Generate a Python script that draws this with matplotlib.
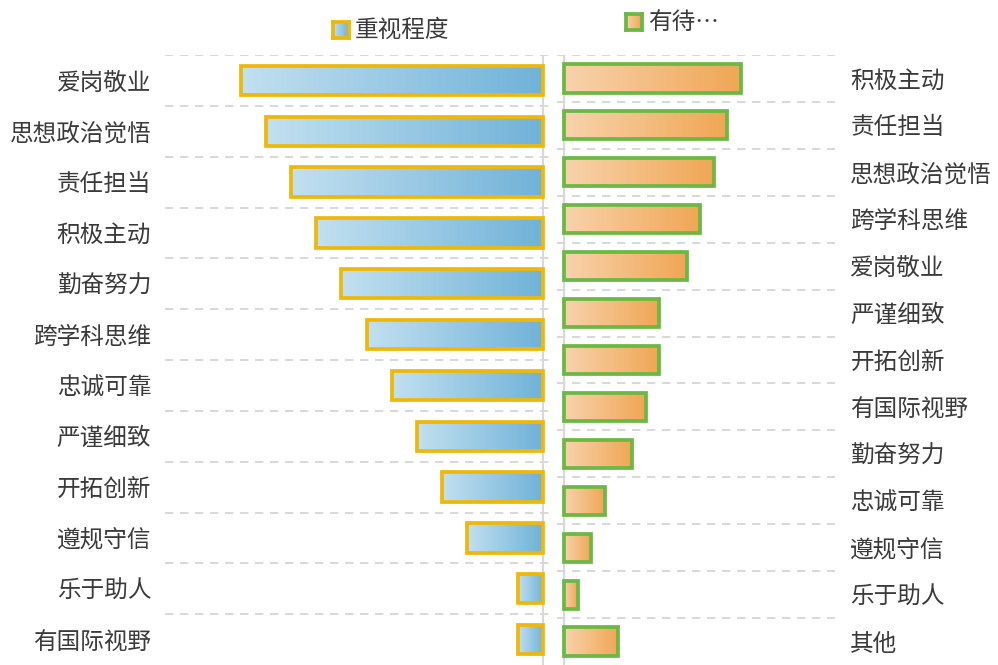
import matplotlib.pyplot as plt
import numpy as np
from matplotlib.patches import Rectangle
from matplotlib.colors import LinearSegmentedColormap

plt.rcParams['font.family'] = ['Noto Sans CJK SC', 'DejaVu Sans']

# left panel: 重视程度
left_cats = ['爱岗敬业', '思想政治觉悟', '责任担当', '积极主动', '勤奋努力', '跨学科思维',
             '忠诚可靠', '严谨细致', '开拓创新', '遵规守信', '乐于助人', '有国际视野']
left_vals = [12, 11, 10, 9, 8, 7, 6, 5, 4, 3, 1, 1]

# right panel: 有待…
right_cats = ['积极主动', '责任担当', '思想政治觉悟', '跨学科思维', '爱岗敬业', '严谨细致',
              '开拓创新', '有国际视野', '勤奋努力', '忠诚可靠', '遵规守信', '乐于助人', '其他']
right_vals = [13, 12, 11, 10, 9, 7, 7, 6, 5, 3, 2, 1, 4]

blue_cm = LinearSegmentedColormap.from_list('b', ['#c2e0f0', '#70b2d8'])
orange_cm = LinearSegmentedColormap.from_list('o', ['#f8d3ad', '#f0a654'])
gold = '#eeb80a'
green = '#6cb845'
txt = '#3a3a3a'
grid_c = '#d2d2d2'
grad = np.linspace(0, 1, 256).reshape(1, -1)

W, H = 998, 665
fig = plt.figure(figsize=(W / 100, H / 100), dpi=100)

top = 1 - 55 / H
axL = fig.add_axes([165 / W, 0, (553 - 165) / W, top])
axR = fig.add_axes([557 / W, 0, (835 - 557) / W, top])


def draw_panel(ax, cats, vals, cmap, edge, h, xlim, flip):
    n = len(cats)
    for i, v in enumerate(vals):
        ext = (v, 0) if flip else (0, v)
        ax.imshow(grad, cmap=cmap, aspect='auto', extent=(ext[0], ext[1], i + h / 2, i - h / 2),
                  zorder=2, interpolation='bilinear')
        ax.add_patch(Rectangle((0, i - h / 2), v, h, fill=False, ec=edge, lw=2.7, zorder=3))
    for b in np.arange(n) - 0.5:
        ax.axhline(b, color=grid_c, lw=1.2, ls=(0, (5, 4)), zorder=1)
    ax.axvline(0, color='#d8d8d8', lw=1.5, zorder=1)
    ax.set_xlim(*xlim)
    ax.set_ylim(n - 0.5, -0.5)
    ax.set_yticks(range(n))
    ax.set_yticklabels(cats, fontsize=17, color=txt)
    ax.set_xticks([])
    ax.tick_params(axis='y', length=0)
    for s in ax.spines.values():
        s.set_visible(False)


draw_panel(axL, left_cats, left_vals, blue_cm, gold, 0.58, (15, -0.4), True)
axL.tick_params(axis='y', pad=10)
draw_panel(axR, right_cats, right_vals, orange_cm, green, 0.6, (-0.51, 19.9), False)
axR.yaxis.tick_right()
axR.tick_params(axis='y', pad=11)
for lab in axR.get_yticklabels():
    lab.set_ha('left')


def legend_box(x, y, cmap, edge, label):
    s = 16
    lax = fig.add_axes([x / W, 1 - (y + s / 2) / H, s / W, s / H])
    lax.imshow(grad, cmap=cmap, aspect='auto')
    lax.set_xticks([])
    lax.set_yticks([])
    for sp in lax.spines.values():
        sp.set_color(edge)
        sp.set_linewidth(2.7)
    fig.text((x + s + 6) / W, 1 - y / H, label, fontsize=17, color=txt, va='center', ha='left')


legend_box(333, 30, blue_cm, gold, '重视程度')
legend_box(626, 22, orange_cm, green, '有待…')

fig.savefig('out.png', dpi=100)
